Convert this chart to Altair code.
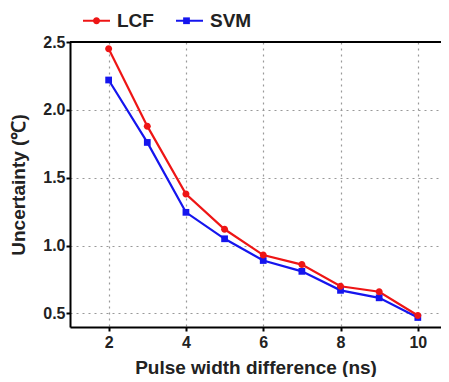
import altair as alt
import pandas as pd

x_vals = [2, 3, 4, 5, 6, 7, 8, 9, 10]
lcf = [2.45, 1.88, 1.38, 1.12, 0.93, 0.86, 0.70, 0.66, 0.485]
svm = [2.22, 1.76, 1.245, 1.05, 0.89, 0.81, 0.67, 0.615, 0.47]
series = ["LCF", "SVM"]
line_keys = ["LCF_", "SVM_"]
colors = ["#ee1515", "#1515ee"]

rows = []
for x, v in zip(x_vals, svm):
    rows.append({"x": x, "y": v, "s": "SVM", "name": "SVM_"})
for x, v in zip(x_vals, lcf):
    rows.append({"x": x, "y": v, "s": "LCF", "name": "LCF_"})
df = pd.DataFrame(rows)

FONT = "Liberation Sans"

xscale = alt.Scale(domain=[1, 10.6], nice=False, zero=False)
yscale = alt.Scale(domain=[0.4, 2.5], nice=False, zero=False)
cscale = alt.Scale(domain=series, range=colors)
sscale = alt.Scale(domain=line_keys, range=colors)

xaxis = alt.Axis(values=[2, 4, 6, 8, 10], title="Pulse width difference (ns)",
                 grid=True, gridDash=[2, 4], gridColor="#999999", gridWidth=1.2,
                 domainColor="black", domainWidth=2, tickColor="black", tickWidth=2, tickSize=4,
                 labelFont=FONT, labelFontSize=16, labelFontWeight="bold", labelColor="#222",
                 labelPadding=3, titleFont=FONT, titleFontSize=19, titleFontWeight="bold",
                 titleColor="#222", titlePadding=8)
yaxis = alt.Axis(values=[0.5, 1.0, 1.5, 2.0, 2.5], format=".1f", title="Uncertainty (℃)",
                 grid=True, gridDash=[2, 4], gridColor="#999999", gridWidth=1.2,
                 domainColor="black", domainWidth=2, tickColor="black", tickWidth=2, tickSize=4,
                 labelFont=FONT, labelFontSize=16, labelFontWeight="bold", labelColor="#222",
                 labelPadding=1, titleFont=FONT, titleFontSize=19, titleFontWeight="bold",
                 titleColor="#222", titlePadding=14)

SYM = 729
common_legend = dict(
    title=None, orient="none", legendX=12, legendY=-36, direction="horizontal",
    labelFont=FONT, labelFontSize=19, labelFontWeight="bold", labelColor="#222",
    symbolSize=SYM, symbolStrokeWidth=2, labelOffset=6, padding=0,
)

line_legend = alt.Legend(symbolType="stroke", columnPadding=18,
                         labelExpr="replace(datum.label, '_', '')", **common_legend)
point_legend = alt.Legend(columnPadding=55, labelExpr="''", **common_legend)

path_c = "M-0.26,0A0.26,0.26,0,1,1,0.26,0A0.26,0.26,0,1,1,-0.26,0Z"
path_s = "M-0.25,-0.25L0.25,-0.25L0.25,0.25L-0.25,0.25Z"

base = alt.Chart(df)

lines = base.mark_line(strokeWidth=2.2).encode(
    x=alt.X("x:Q", scale=xscale, axis=xaxis),
    y=alt.Y("y:Q", scale=yscale, axis=yaxis),
    stroke=alt.Stroke("name:N", scale=sscale, legend=line_legend),
    detail="name:N",
)

points = base.mark_point(filled=True, size=SYM, opacity=1).encode(
    x="x:Q",
    y="y:Q",
    color=alt.Color("s:N", scale=cscale, legend=point_legend),
    shape=alt.Shape("s:N", scale=alt.Scale(domain=series, range=[path_c, path_s]), legend=point_legend),
)

top = alt.Chart(pd.DataFrame({"y": [2.5]})).mark_rule(color="black", strokeWidth=2).encode(
    y=alt.Y("y:Q", scale=yscale)
)

chart = alt.layer(lines, points, top).properties(
    width=371, height=285,
    padding={"left": 62, "top": 34, "right": 0, "bottom": 50},
    autosize="none",
).configure_view(stroke=None).configure(background="white")

chart.save("out.html", embed_options={"renderer": "svg", "actions": False})
